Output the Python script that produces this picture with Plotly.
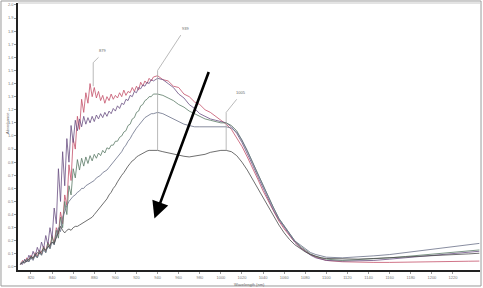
import plotly.graph_objects as go

wavelength = [810, 812, 814, 816, 818, 820, 822, 824, 826, 828, 830, 832, 834, 836, 838, 840,
              842, 844, 846, 848, 850, 852, 854, 856, 858, 860, 862, 864, 866, 868, 870, 872,
              874, 876, 878, 880, 882, 884, 886, 888, 890, 892, 894, 896, 898, 900, 902, 904,
              906, 908, 910, 912, 914, 916, 918, 920, 922, 924, 926, 928, 930, 932, 934, 936,
              940, 945, 950, 955, 960, 965, 970, 975, 980, 985, 990, 995, 1000,
              1005, 1010, 1015, 1020, 1025, 1030, 1035, 1040, 1045, 1050,
              1055, 1060, 1065, 1070, 1075, 1080, 1085, 1090, 1095, 1100,
              1115, 1130, 1145, 1160, 1175, 1190, 1205, 1220, 1235, 1245]

abs_1 = [0.02, 0.05, 0.03, 0.07, 0.05, 0.09, 0.06, 0.11, 0.08, 0.13, 0.10, 0.16, 0.12, 0.19, 0.15, 0.24,
         0.18, 0.30, 0.25, 0.42, 0.33, 0.55, 0.47, 0.78, 0.66, 0.98, 0.90, 1.15, 1.05, 1.28, 1.18, 1.33,
         1.25, 1.40, 1.30, 1.37, 1.29, 1.34, 1.27, 1.31, 1.25, 1.30, 1.27, 1.32, 1.28, 1.31, 1.29, 1.33,
         1.30, 1.35, 1.31, 1.34, 1.33, 1.37, 1.34, 1.38, 1.35, 1.41, 1.38, 1.42, 1.40, 1.44, 1.42, 1.45,
         1.46, 1.43, 1.42, 1.38, 1.37, 1.32, 1.30, 1.26, 1.24, 1.20, 1.18, 1.15, 1.12,
         1.09, 1.05, 0.99, 0.92, 0.84, 0.76, 0.67, 0.58, 0.50, 0.42,
         0.35, 0.29, 0.24, 0.19, 0.15, 0.12, 0.095, 0.075, 0.06, 0.05,
         0.04, 0.035, 0.035, 0.035, 0.038, 0.04, 0.04, 0.042, 0.044, 0.045]

abs_2 = [0.03, 0.02, 0.06, 0.04, 0.09, 0.06, 0.12, 0.08, 0.15, 0.11, 0.19, 0.14, 0.24, 0.17, 0.30, 0.22,
         0.45, 0.33, 0.75, 0.50, 0.88, 0.62, 0.98, 0.80, 1.08, 0.95, 1.12, 1.04, 1.13, 1.07, 1.15, 1.09,
         1.14, 1.10, 1.15, 1.11, 1.16, 1.13, 1.17, 1.14, 1.18, 1.15, 1.19, 1.17, 1.21, 1.19, 1.23, 1.21,
         1.25, 1.24, 1.28, 1.27, 1.31, 1.30, 1.34, 1.33, 1.37, 1.36, 1.39, 1.38, 1.41, 1.40, 1.43, 1.42,
         1.44, 1.43, 1.40, 1.37, 1.32, 1.29, 1.24, 1.21, 1.17, 1.15, 1.13, 1.12, 1.11,
         1.10, 1.07, 1.02, 0.95, 0.87, 0.78, 0.69, 0.60, 0.51, 0.43,
         0.36, 0.30, 0.24, 0.19, 0.15, 0.12, 0.09, 0.07, 0.06, 0.05,
         0.045, 0.045, 0.05, 0.06, 0.07, 0.08, 0.09, 0.10, 0.11, 0.12]

abs_3 = [0.02, 0.04, 0.03, 0.06, 0.04, 0.08, 0.06, 0.10, 0.07, 0.12, 0.09, 0.15, 0.11, 0.18, 0.14, 0.23,
         0.17, 0.28, 0.22, 0.38, 0.30, 0.50, 0.40, 0.62, 0.55, 0.75, 0.68, 0.82, 0.74, 0.83, 0.77, 0.84,
         0.79, 0.85, 0.81, 0.86, 0.83, 0.87, 0.85, 0.89, 0.87, 0.91, 0.90, 0.93, 0.93, 0.96, 0.96, 0.99,
         1.00, 1.03, 1.04, 1.08, 1.09, 1.13, 1.14, 1.18, 1.19, 1.23, 1.24, 1.27, 1.28, 1.30, 1.30, 1.32,
         1.32, 1.31, 1.29, 1.27, 1.24, 1.22, 1.19, 1.17, 1.15, 1.13, 1.12, 1.11, 1.10,
         1.10, 1.08, 1.04, 0.97, 0.89, 0.80, 0.71, 0.62, 0.53, 0.45,
         0.37, 0.31, 0.25, 0.20, 0.16, 0.13, 0.10, 0.08, 0.07, 0.06,
         0.05, 0.055, 0.06, 0.07, 0.08, 0.09, 0.10, 0.11, 0.12, 0.13]

abs_4 = [0.02, 0.04, 0.03, 0.05, 0.04, 0.07, 0.05, 0.09, 0.07, 0.11, 0.09, 0.13, 0.11, 0.16, 0.14, 0.19,
         0.17, 0.24, 0.30, 0.27, 0.38, 0.42, 0.47, 0.50, 0.52, 0.54, 0.55, 0.57, 0.58, 0.60, 0.60, 0.62,
         0.63, 0.64, 0.65, 0.66, 0.68, 0.69, 0.70, 0.72, 0.73, 0.74, 0.76, 0.78, 0.80, 0.82, 0.84, 0.86,
         0.88, 0.91, 0.93, 0.96, 0.98, 1.01, 1.04, 1.06, 1.08, 1.10, 1.12, 1.14, 1.15, 1.16, 1.17, 1.17,
         1.18, 1.17, 1.15, 1.13, 1.11, 1.09, 1.08, 1.07, 1.07, 1.07, 1.07, 1.07, 1.07,
         1.07, 1.06, 1.03, 0.97, 0.89, 0.80, 0.71, 0.62, 0.53, 0.45,
         0.37, 0.31, 0.25, 0.20, 0.17, 0.14, 0.11, 0.095, 0.085, 0.075,
         0.07, 0.075, 0.085, 0.095, 0.11, 0.12, 0.14, 0.155, 0.17, 0.18]

abs_5 = [0.02, 0.03, 0.05, 0.04, 0.06, 0.08, 0.07, 0.09, 0.11, 0.10, 0.12, 0.14, 0.13, 0.15, 0.17, 0.19,
         0.18, 0.22, 0.27, 0.31, 0.28, 0.26, 0.28, 0.29, 0.28, 0.30, 0.31, 0.31, 0.32, 0.33, 0.34, 0.35,
         0.36, 0.37, 0.38, 0.40, 0.42, 0.44, 0.46, 0.48, 0.50, 0.52, 0.55, 0.57, 0.60, 0.62, 0.65, 0.68,
         0.70, 0.72, 0.75, 0.77, 0.79, 0.81, 0.82, 0.84, 0.85, 0.86, 0.87, 0.88, 0.885, 0.89, 0.89, 0.89,
         0.89, 0.88, 0.87, 0.86, 0.85, 0.845, 0.84, 0.845, 0.85, 0.86, 0.875, 0.885, 0.89,
         0.89, 0.88, 0.85, 0.80, 0.74, 0.67, 0.60, 0.52, 0.45, 0.38,
         0.32, 0.26, 0.21, 0.17, 0.14, 0.115, 0.095, 0.08, 0.07, 0.065,
         0.06, 0.06, 0.065, 0.07, 0.075, 0.08, 0.09, 0.095, 0.10, 0.105]

series = [abs_1, abs_2, abs_3, abs_4, abs_5]
colors = ["#c4506a", "#6a4f82", "#5a7a66", "#6a7088", "#4a4a4a"]

# peak markers: wavelength, bottom/top of vertical leader (abs), label position, label text
peak_x = [879, 940, 1005]
peak_bottom = [1.38, 0.89, 0.89]
peak_top = [1.56, 1.50, 1.18]
label_x = [888, 966, 1019]
label_y = [1.65, 1.82, 1.33]
peak_labels = ["879", "939", "1005"]

x_ticks = [820, 840, 860, 880, 900, 920, 940, 960, 980, 1000, 1020, 1040, 1060, 1080, 1100,
           1120, 1140, 1160, 1180, 1200, 1220]
y_ticks = [0.0, 0.1, 0.2, 0.3, 0.4, 0.5, 0.6, 0.7, 0.8, 0.9, 1.0, 1.1, 1.2, 1.3, 1.4, 1.5,
           1.6, 1.7, 1.8, 1.9, 2.0]

arrow_tail = (989, 1.50)
arrow_head = (937, 0.37)

fig = go.Figure()
for s, c in zip(series, colors):
    fig.add_trace(go.Scatter(x=wavelength, y=s, mode="lines",
                             line=dict(color=c, width=0.8), showlegend=False))

shapes = []
for px, pb, pt, lx, ly in zip(peak_x, peak_bottom, peak_top, label_x, label_y):
    shapes.append(dict(type="line", xref="x", yref="y", x0=px, x1=px, y0=pb, y1=pt,
                       line=dict(color="#a8a8a8", width=0.8)))
    shapes.append(dict(type="line", xref="x", yref="y", x0=px, x1=lx - 4, y0=pt, y1=ly - 0.05,
                       line=dict(color="#a8a8a8", width=0.8)))

# outer border around the whole image
shapes.append(dict(type="rect", xref="paper", yref="paper", x0=-0.0368, x1=1.0022, y0=-0.0599, y1=1.0075,
                   line=dict(color="#9a9a9a", width=1)))
# top frame of plot
shapes.append(dict(type="line", xref="paper", yref="paper", x0=0, x1=1, y0=1, y1=1,
                   line=dict(color="#c8c8c8", width=1)))

annotations = []
for lx, ly, t in zip(label_x, label_y, peak_labels):
    annotations.append(dict(x=lx, y=ly, xref="x", yref="y", text=t, showarrow=False,
                            font=dict(size=4, color="#666", family="Liberation Sans")))
annotations.append(dict(x=arrow_head[0], y=arrow_head[1], ax=arrow_tail[0], ay=arrow_tail[1],
                        xref="x", yref="y", axref="x", ayref="y", text="", showarrow=True,
                        arrowhead=2, arrowsize=1.3, arrowwidth=2.6, arrowcolor="#000"))
annotations.append(dict(x=0.5, y=-0.036, xref="paper", yref="paper", yanchor="top", xanchor="center",
                        text="Wavelength (nm)", showarrow=False,
                        font=dict(size=4, color="#666", family="Liberation Sans")))
annotations.append(dict(x=-0.034, y=0.55, xref="paper", yref="paper", text="Absorbance", textangle=-90,
                        showarrow=False, font=dict(size=4, color="#666", family="Liberation Sans")))

fig.update_layout(
    width=483, height=288,
    margin=dict(l=18, r=3, t=3, b=18),
    paper_bgcolor="white", plot_bgcolor="white",
    shapes=shapes, annotations=annotations,
    xaxis=dict(range=[807.7, 1245.6], tickvals=x_ticks, ticktext=[str(v) for v in x_ticks],
               showgrid=False, zeroline=False, showline=True, linecolor="#222", linewidth=1.5,
               ticks="outside", ticklen=2, tickcolor="#999",
               tickfont=dict(size=4, color="#777", family="Liberation Sans")),
    yaxis=dict(range=[-0.023, 2.015], tickvals=y_ticks, ticktext=[f"{v:.1f}" for v in y_ticks],
               showgrid=False, zeroline=False, showline=True, linecolor="#222", linewidth=1.5,
               ticks="outside", ticklen=2, tickcolor="#999",
               tickfont=dict(size=4, color="#777", family="Liberation Sans")),
)

fig.write_html("out.html")
